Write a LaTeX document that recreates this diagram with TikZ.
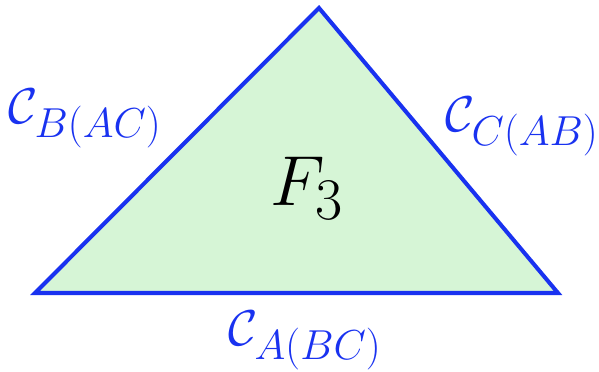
\documentclass[tikz,border=0pt]{standalone}
\usepackage{amsmath}
\definecolor{edgeblue}{RGB}{25,50,240}
\definecolor{facegreen}{RGB}{214,245,214}
\begin{document}
\begin{tikzpicture}[x=0.02cm,y=-0.02cm,
  lbl/.style={text=edgeblue,font=\fontsize{24.88}{30}\selectfont,inner sep=0pt,scale=1.15},
  edge/.style={draw=edgeblue,line width=2.3pt,line join=miter}]
\useasboundingbox (0,0) rectangle (599,372);
\coordinate (T) at (319,8);
\coordinate (L) at (35,293);
\coordinate (R) at (558,293);
\filldraw[edge,fill=facegreen] (T) -- (L) -- (R) -- cycle;
\node[lbl] (cl) at (85,119) {$\mathcal{C}_{B(AC)}$};
\node[lbl] (cr) at (522,127) {$\mathcal{C}_{C(AB)}$};
\node[lbl] (cb) at (305,341) {$\mathcal{C}_{A(BC)}$};
\node[font=\fontsize{24.88}{30}\selectfont,inner sep=0pt,scale=1.62] (f) at (307,188) {$F_3$};
\end{tikzpicture}
\end{document}
